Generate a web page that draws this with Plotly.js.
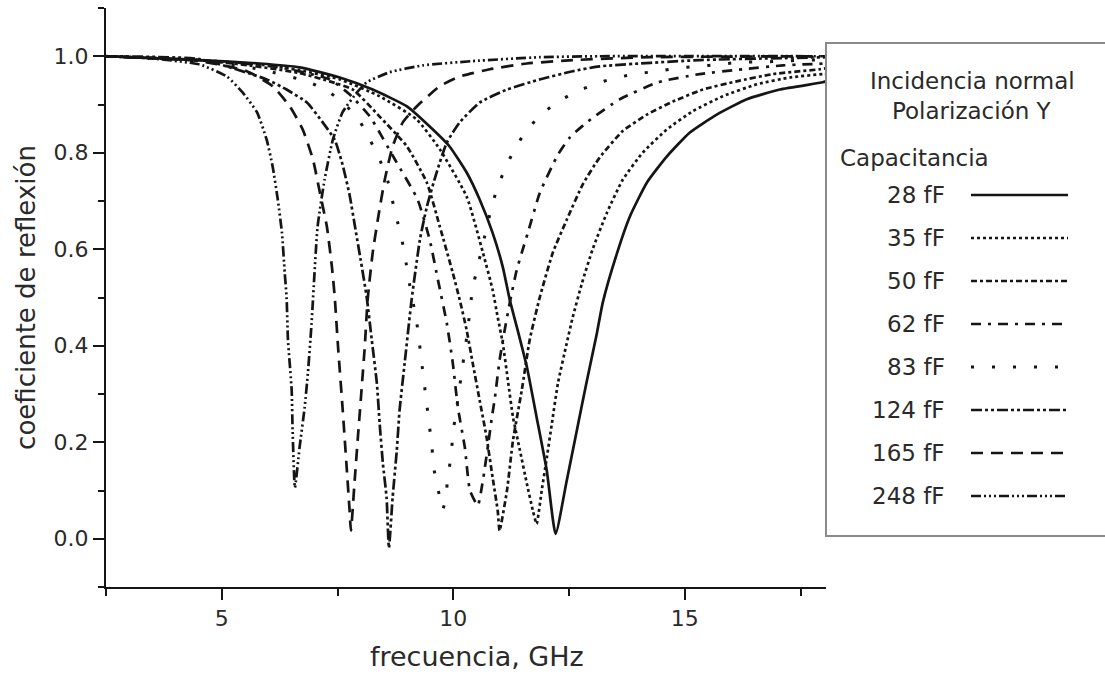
<!DOCTYPE html>
<html><head><meta charset="utf-8">
<script src="https://cdn.plot.ly/plotly-3.0.1.min.js"></script>
<style>html,body{margin:0;padding:0;background:#fff}#chart{width:1105px;height:677px}</style>
</head><body><div id="chart"></div>
<script>
// ---- data ----
const capLabels = ['28 fF','35 fF','50 fF','62 fF','83 fF','124 fF','165 fF','248 fF'];
const headerLines = ['Incidencia normal','Polarización Y'];
const legendTitle = 'Capacitancia';
const xTitle = 'frecuencia, GHz';
const yTitle = 'coeficiente de reflexión';

const freq28 = [2.5,4.52,5.82,6.68,7.55,8.26,9.00,9.56,9.92,10.29,10.57,10.85,11.07,11.22,11.37,11.59,11.80,12.02,12.21,12.45,12.67,12.88,13.10,13.23,13.53,13.81,14.18,14.61,15.11,15.69,16.34,17.05,17.98,18.05];
const refl28 = [1.0,0.992,0.985,0.977,0.956,0.931,0.896,0.848,0.813,0.759,0.703,0.634,0.563,0.495,0.440,0.356,0.252,0.141,0.010,0.120,0.225,0.325,0.425,0.490,0.590,0.667,0.738,0.792,0.842,0.879,0.911,0.931,0.946,0.948];

const freq35 = [2.5,4.52,5.82,6.68,7.55,8.41,9.21,9.71,10.29,10.64,10.85,10.96,11.07,11.18,11.29,11.44,11.59,11.72,11.80,11.91,12.02,12.13,12.26,12.45,12.58,12.78,13.01,13.32,13.66,14.09,14.61,15.17,15.82,16.56,17.27,17.98,18.05];
const refl35 = [1.0,0.992,0.983,0.971,0.952,0.917,0.869,0.807,0.709,0.593,0.516,0.459,0.405,0.328,0.252,0.183,0.114,0.058,0.031,0.100,0.168,0.239,0.322,0.405,0.459,0.530,0.600,0.676,0.744,0.800,0.848,0.886,0.917,0.942,0.956,0.963,0.963];

const freq50 = [2.5,4.52,5.60,6.68,7.33,7.83,8.41,9.00,9.43,9.71,9.99,10.14,10.29,10.42,10.57,10.72,10.85,10.96,11.00,11.16,11.29,11.48,11.65,11.87,12.15,12.45,12.80,13.16,13.66,14.18,14.74,15.39,16.12,16.90,17.92,18.05];
const refl50 = [1.0,0.992,0.981,0.965,0.948,0.931,0.875,0.813,0.738,0.647,0.551,0.495,0.432,0.364,0.287,0.210,0.127,0.058,0.017,0.100,0.204,0.308,0.412,0.501,0.593,0.661,0.735,0.790,0.845,0.879,0.906,0.931,0.948,0.963,0.973,0.975];

const freq62 = [2.5,4.52,6.25,7.33,7.76,8.20,8.74,9.23,9.49,9.67,9.86,9.99,10.10,10.25,10.36,10.53,10.64,10.75,10.83,10.90,11.00,11.11,11.22,11.37,11.48,11.61,11.87,12.26,12.52,12.91,13.60,14.42,15.32,16.25,17.12,18.05];
const refl62 = [1.0,0.992,0.977,0.952,0.921,0.875,0.786,0.703,0.620,0.536,0.447,0.364,0.272,0.189,0.100,0.069,0.121,0.193,0.249,0.293,0.370,0.432,0.489,0.557,0.593,0.634,0.717,0.796,0.832,0.865,0.911,0.946,0.963,0.973,0.981,0.985];

const freq83 = [2.5,4.52,5.82,6.90,7.33,7.66,7.98,8.20,8.39,8.56,8.67,8.78,8.89,8.97,9.04,9.21,9.32,9.43,9.54,9.58,9.67,9.77,9.84,9.88,9.95,9.99,10.05,10.12,10.18,10.25,10.31,10.42,10.51,10.72,10.83,10.96,11.13,11.33,11.57,11.87,12.24,12.62,13.06,13.45,13.92,14.40,14.83,15.26,15.76,16.19,16.66,17.12,17.64,18.05];
const refl83 = [1.0,0.990,0.973,0.946,0.925,0.900,0.865,0.827,0.790,0.751,0.707,0.663,0.620,0.578,0.536,0.449,0.364,0.277,0.189,0.146,0.104,0.060,0.085,0.127,0.170,0.214,0.258,0.301,0.345,0.389,0.432,0.520,0.557,0.644,0.688,0.730,0.769,0.809,0.844,0.877,0.904,0.925,0.942,0.954,0.963,0.969,0.975,0.979,0.983,0.988,0.988,0.990,0.992,0.992];

const freq124 = [2.5,4.52,5.97,6.40,6.84,7.18,7.44,7.61,7.76,7.89,8.00,8.13,8.24,8.35,8.41,8.48,8.56,8.61,8.69,8.78,8.84,8.95,9.10,9.28,9.43,9.64,9.86,10.14,10.57,11.16,11.87,12.58,13.16,15.32,18.05];
const refl124 = [1.0,0.994,0.952,0.931,0.904,0.863,0.827,0.775,0.713,0.640,0.578,0.501,0.412,0.322,0.239,0.156,0.085,-0.019,0.085,0.183,0.266,0.364,0.495,0.620,0.688,0.759,0.821,0.863,0.904,0.931,0.952,0.969,0.979,0.992,0.998];

const freq165 = [2.5,4.52,5.54,6.10,6.47,6.75,6.97,7.12,7.27,7.38,7.44,7.51,7.61,7.70,7.76,7.79,7.87,7.94,8.02,8.09,8.15,8.26,8.37,8.52,8.69,8.91,9.21,9.71,10.14,10.79,11.59,12.58,14.24,18.05];
const refl165 = [1.0,0.990,0.969,0.938,0.896,0.848,0.786,0.717,0.647,0.563,0.501,0.400,0.270,0.145,0.060,0.017,0.120,0.210,0.310,0.400,0.495,0.593,0.661,0.744,0.813,0.863,0.896,0.938,0.958,0.973,0.985,0.992,0.998,1.0];

const freq248 = [2.5,3.44,4.52,5.11,5.45,5.76,5.97,6.10,6.21,6.30,6.36,6.40,6.43,6.51,6.53,6.58,6.68,6.79,6.86,6.94,7.07,7.22,7.40,7.61,7.92,8.13,8.63,9.34,10.42,11.87,13.16,18.05];
const refl248 = [1.0,0.996,0.983,0.958,0.925,0.884,0.827,0.771,0.703,0.634,0.551,0.501,0.412,0.308,0.225,0.106,0.189,0.272,0.343,0.447,0.647,0.744,0.827,0.884,0.925,0.946,0.967,0.981,0.990,0.998,1.0,1.0];

const freqs = [freq28,freq35,freq50,freq62,freq83,freq124,freq165,freq248];
const refls = [refl28,refl35,refl50,refl62,refl83,refl124,refl165,refl248];

// ---- styles ----
const INK = '#151515';
const TXT = '#2a2a2a';
const dashes = ['solid','3px,3px','6px,3px,3px,3px','10px,7px,3px,7px','3px,18px','11px,3px,3px,3px,3px,3px','12px,8px','10px,3px,2px,3px,2px,3px,2px,3px'];
const widths = [2.7,2.7,2.7,2.7,3,2.7,2.7,2.7];
const FONT = 'DejaVu Sans, sans-serif';

const traces = capLabels.map((lab,i)=>({
  x: freqs[i], y: refls[i], type:'scatter', mode:'lines', name: lab,
  line:{color:INK, width:widths[i], dash:dashes[i], shape:'spline', smoothing:0.5},
  showlegend:false, hoverinfo:'skip'
}));

// pixel geometry of the plot frame
const L=106, R=826, T=8, B=587, W=1105, H=677;
const px = v => (v-L)/(R-L);
const py = v => (B-v)/(B-T);

const shapes = [{type:'rect', xref:'paper', yref:'paper', x0:px(826), x1:px(1115), y0:py(536), y1:py(43), line:{color:'#8a8a8a', width:2}, fillcolor:'rgba(0,0,0,0)'}];
const annotations = [];
headerLines.forEach((t,i)=>annotations.push({xref:'paper',yref:'paper',x:px(972),y:py(81+30*i),text:t,showarrow:false,xanchor:'center',yanchor:'middle',font:{family:FONT,size:23,color:TXT}}));
annotations.push({xref:'paper',yref:'paper',x:px(838),y:py(158),text:legendTitle,showarrow:false,xanchor:'left',yanchor:'middle',font:{family:FONT,size:23,color:TXT}});
capLabels.forEach((lab,i)=>{
  const yy = 195 + 43*i;
  annotations.push({xref:'paper',yref:'paper',x:px(947),y:py(yy),text:lab,showarrow:false,xanchor:'right',yanchor:'middle',font:{family:FONT,size:23,color:TXT}});
  shapes.push({type:'line',xref:'paper',yref:'paper',x0:px(971),x1:px(1068),y0:py(yy),y1:py(yy),line:{color:INK,width:widths[i],dash:dashes[i]}});
});
// x-axis title (placed as in the reference, slightly right of the frame centre)
annotations.push({xref:'paper',yref:'paper',x:px(477),y:py(656),text:xTitle,showarrow:false,xanchor:'center',yanchor:'middle',font:{family:FONT,size:27,color:TXT}});

const layout = {
  width:W, height:H, paper_bgcolor:'#fff', plot_bgcolor:'#fff',
  margin:{l:L, r:W-R, t:T, b:H-B, pad:0},
  showlegend:false,
  font:{family:FONT, color:TXT},
  xaxis:{range:[2.5,18.05], showgrid:false, zeroline:false, showline:true, linecolor:INK, linewidth:2,
    ticks:'outside', ticklen:11, tickwidth:2, tickcolor:INK, tick0:0, dtick:5,
    tickfont:{family:FONT,size:22,color:TXT},
    minor:{dtick:2.5, tick0:0, ticks:'outside', ticklen:7, tickwidth:2, tickcolor:INK},
    automargin:false},
  yaxis:{range:[-0.1,1.1], showgrid:false, zeroline:false, showline:true, linecolor:INK, linewidth:2,
    ticks:'outside', ticklen:11, tickwidth:2, tickcolor:INK, tick0:0, dtick:0.2, tickformat:'.1f',
    tickfont:{family:FONT,size:22,color:TXT},
    minor:{dtick:0.1, tick0:0, ticks:'outside', ticklen:6, tickwidth:2, tickcolor:INK},
    title:{text:yTitle, font:{family:FONT,size:26,color:TXT}, standoff:10}, automargin:false},
  shapes: shapes, annotations: annotations
};

Plotly.newPlot('chart', traces, layout, {staticPlot:true, displayModeBar:false});
</script></body></html>
